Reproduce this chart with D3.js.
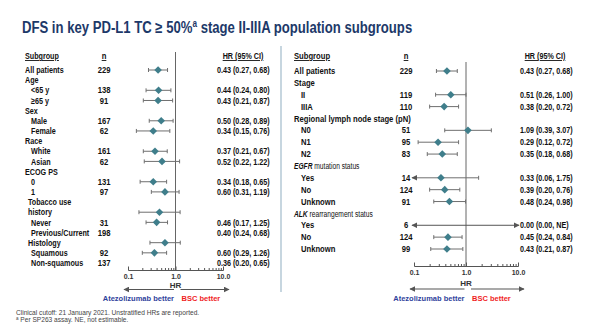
<!DOCTYPE html>
<html>
<head>
<meta charset="utf-8">
<script src="https://cdn.jsdelivr.net/npm/d3@7"></script>
<style>
  body { margin: 0; background: #fff; }
  svg text { font-family: "Liberation Sans", Arial, sans-serif; }
</style>
</head>
<body>
<div id="chart"></div>
<script>
// ---- data ----
const leftLabels = ["All patients", "Age", "<65 y", "≥65 y", "Sex", "Male", "Female", "Race", "White", "Asian",
  "ECOG PS", "0", "1", "Tobacco use", "history", "Never", "Previous/Current", "Histology", "Squamous", "Non-squamous"];
const leftLevels = [0, 0, 1, 1, 0, 1, 1, 0, 1, 1, 0, 1, 1, 0.5, 0.5, 1, 1, 0.5, 1, 1];
const leftN = ["229", "", "138", "91", "", "167", "62", "", "161", "62", "", "131", "97", "", "", "31", "198", "", "92", "137"];
// markers as they are drawn on the slide (tobacco / histology markers sit one row higher)
const leftHR = [0.43, null, 0.44, 0.43, null, 0.50, 0.34, null, 0.37, 0.52, null, 0.34, 0.60, null, 0.46, 0.40, null, 0.60, 0.36, null];
const leftLo = [0.27, null, 0.24, 0.21, null, 0.28, 0.15, null, 0.21, 0.22, null, 0.18, 0.31, null, 0.17, 0.24, null, 0.29, 0.20, null];
const leftHi = [0.68, null, 0.80, 0.87, null, 0.89, 0.76, null, 0.67, 1.22, null, 0.65, 1.19, null, 1.25, 0.68, null, 1.26, 0.65, null];
const leftText = ["0.43 (0.27, 0.68)", "", "0.44 (0.24, 0.80)", "0.43 (0.21, 0.87)", "", "0.50 (0.28, 0.89)", "0.34 (0.15, 0.76)", "",
  "0.37 (0.21, 0.67)", "0.52 (0.22, 1.22)", "", "0.34 (0.18, 0.65)", "0.60 (0.31, 1.19)", "", "", "0.46 (0.17, 1.25)",
  "0.40 (0.24, 0.68)", "", "0.60 (0.29, 1.26)", "0.36 (0.20, 0.65)"];

const rightLabels = ["All patients", "Stage", "II", "IIIA", "Regional lymph node stage (pN)", "N0", "N1", "N2",
  "EGFR| mutation status", "Yes", "No", "Unknown", "ALK| rearrangement status", "Yes", "No", "Unknown"];
const rightLevels = [0, 0, 1, 1, 0, 1, 1, 1, 0, 1, 1, 1, 0, 1, 1, 1];
const rightN = ["229", "", "119", "110", "", "51", "95", "83", "", "14", "124", "91", "", "6", "124", "99"];
const rightHR = [0.43, null, 0.51, 0.38, null, 1.09, 0.29, 0.35, null, 0.33, 0.39, 0.48, null, 0, 0.45, 0.43];
const rightLo = [0.27, null, 0.26, 0.20, null, 0.39, 0.12, 0.18, null, 0.06, 0.20, 0.24, null, 0, 0.24, 0.21];
const rightHi = [0.68, null, 1.00, 0.72, null, 3.07, 0.72, 0.68, null, 1.75, 0.76, 0.98, null, Infinity, 0.84, 0.87];
const rightText = ["0.43 (0.27, 0.68)", "", "0.51 (0.26, 1.00)", "0.38 (0.20, 0.72)", "", "1.09 (0.39, 3.07)",
  "0.29 (0.12, 0.72)", "0.35 (0.18, 0.68)", "", "0.33 (0.06, 1.75)", "0.39 (0.20, 0.76)", "0.48 (0.24, 0.98)", "",
  "0.00 (0.00, NE)", "0.45 (0.24, 0.84)", "0.43 (0.21, 0.87)"];

const hrDomain = [0.1, 10];
const hrTicks = [0.1, 1, 10];

// ---- layout ----
const W = 612, H = 336;
const COLORS = { title: "#1d3969", text: "#111", diamond: "#3f7e8b", ci: "#6f6f6f", ref: "#666",
  axis: "#555", better: "#2f3f9c", bsc: "#f01e1e", sep: "#b9ccd8", note: "#444" };

const svg = d3.select("#chart").append("svg").attr("width", W).attr("height", H);

svg.append("defs").append("marker")
  .attr("id", "ah").attr("viewBox", "0 0 10 10").attr("refX", 9).attr("refY", 5)
  .attr("markerWidth", 6).attr("markerHeight", 6).attr("orient", "auto-start-reverse")
  .attr("markerUnits", "userSpaceOnUse")
  .append("path").attr("d", "M0,0L10,5L0,10z").attr("fill", COLORS.axis);

// no narrow font installed, so squeeze text horizontally to look condensed
function narrowText(parent, x, y, s) {
  return parent.append("text").attr("transform", `translate(${x},${y}) scale(${s},1)`);
}

const title = narrowText(svg, 22, 32.5, 0.82)
  .attr("font-size", 16).attr("font-weight", "bold").attr("fill", COLORS.title);
title.append("tspan").text("DFS in key PD-L1 TC ≥ 50%");
title.append("tspan").attr("font-size", 10).attr("dy", -5.5).text("a");
title.append("tspan").attr("dy", 5.5).text(" stage II-IIIA population subgroups");

// panel separator
svg.append("line").attr("x1", 281).attr("x2", 281).attr("y1", 46).attr("y2", 292)
  .attr("stroke", COLORS.sep).attr("stroke-width", 1.6);

function panel(cfg) {
  const g = svg.append("g");
  const rows = cfg.labels.map((label, i) => ({
    label, level: cfg.levels[i], n: cfg.n[i], hr: cfg.hr[i], lo: cfg.lo[i], hi: cfg.hi[i], text: cfg.text[i]
  }));
  const y = d3.scalePoint().domain(d3.range(rows.length)).range(cfg.yRange);
  const x = d3.scaleLog().domain(hrDomain).range(cfg.xRange);
  const fs = cfg.fontSize;

  // headers
  const hdr = g.append("g").attr("font-size", fs).attr("font-weight", "bold").attr("fill", COLORS.text)
    .attr("text-decoration", "underline");
  narrowText(hdr, cfg.labelX, cfg.headerY, cfg.labelScale).text("Subgroup");
  narrowText(hdr, cfg.nX, cfg.headerY, 0.85).attr("text-anchor", "middle").text("n");
  narrowText(hdr, cfg.hrHeadX, cfg.headerY, 0.8).attr("text-anchor", "middle").text("HR (95% CI)");

  // reference line at HR = 1
  g.append("line").attr("x1", x(1)).attr("x2", x(1)).attr("y1", cfg.refTop).attr("y2", cfg.axisY)
    .attr("stroke", COLORS.ref).attr("stroke-width", 1);

  const row = g.selectAll("g.row").data(rows).join("g").attr("class", "row")
    .attr("transform", (d, i) => `translate(0,${y(i)})`);

  // subgroup labels (a "|" marks an italic gene name prefix)
  row.each(function (d) {
    const parts = d.label.split("|");
    const t = narrowText(d3.select(this), cfg.labelX + d.level * cfg.indent, 0,
        parts.length > 1 ? cfg.italicScale : cfg.labelScale)
      .attr("dy", "0.35em").attr("font-size", fs).attr("font-weight", "bold").attr("fill", COLORS.text);
    if (parts.length > 1) {
      t.append("tspan").attr("font-style", "italic").text(parts[0]);
      t.append("tspan").attr("font-weight", "normal").text(parts[1]);
    } else {
      t.text(d.label);
    }
    narrowText(d3.select(this), cfg.nX, 0, 0.85).attr("dy", "0.35em").attr("text-anchor", "middle")
      .attr("font-size", fs).attr("font-weight", "bold").attr("fill", COLORS.text).text(d.n);
    narrowText(d3.select(this), cfg.hrTextX, 0, 0.8).attr("dy", "0.35em")
      .attr("font-size", fs).attr("font-weight", "bold").attr("fill", COLORS.text).text(d.text);
  });

  // CIs
  const est = row.filter(d => d.hr !== null);
  const [xmin, xmax] = x.range();
  est.append("line")
    .attr("x1", d => d.lo < hrDomain[0] ? xmin - 2 : x(d.lo))
    .attr("x2", d => d.hi > hrDomain[1] ? xmax + 1 : x(d.hi))
    .attr("stroke", d => d.hr === 0 ? COLORS.axis : COLORS.ci).attr("stroke-width", 1)
    .attr("marker-start", d => (d.lo < hrDomain[0]) ? "url(#ah)" : null)
    .attr("marker-end", d => (d.hi > hrDomain[1]) ? "url(#ah)" : null);
  est.filter(d => d.lo >= hrDomain[0]).append("line")
    .attr("x1", d => x(d.lo)).attr("x2", d => x(d.lo)).attr("y1", -2).attr("y2", 2)
    .attr("stroke", COLORS.ci);
  est.filter(d => d.hi <= hrDomain[1]).append("line")
    .attr("x1", d => x(d.hi)).attr("x2", d => x(d.hi)).attr("y1", -2).attr("y2", 2)
    .attr("stroke", COLORS.ci);
  est.filter(d => d.hr > 0).append("path")
    .attr("d", "M0,-3.8L3.8,0L0,3.8L-3.8,0Z")
    .attr("transform", d => `translate(${x(d.hr)},0)`)
    .attr("fill", COLORS.diamond);

  // log axis, ticks pointing up
  const axis = d3.axisBottom(x).tickValues(x.ticks()).tickSize(-2)
    .tickFormat(d => hrTicks.includes(d) ? d3.format(".1f")(d) : "");
  const ag = g.append("g").attr("transform", `translate(0,${cfg.axisY})`).call(axis);
  ag.select(".domain").attr("stroke", COLORS.axis).attr("stroke-width", 1);
  ag.selectAll(".tick line").attr("stroke", COLORS.axis)
    .attr("y2", d => hrTicks.includes(d) ? -3.5 : -2);
  ag.selectAll(".tick text").attr("font-size", 7).attr("font-weight", "bold")
    .attr("fill", "#333").attr("y", cfg.tickDy).attr("dy", 0);

  g.append("text").attr("x", x(1)).attr("y", cfg.axisY + cfg.hrDy).attr("text-anchor", "middle")
    .attr("font-size", 8).attr("font-weight", "bold").attr("fill", "#333").text("HR");

  const ay = cfg.axisY + cfg.arrowDy;
  g.append("line").attr("x1", x(1) - 1.5).attr("x2", xmin - 4).attr("y1", ay).attr("y2", ay)
    .attr("stroke", COLORS.axis).attr("stroke-width", 1.1).attr("marker-end", "url(#ah)");
  g.append("line").attr("x1", x(1) + 5).attr("x2", xmax + 6).attr("y1", ay).attr("y2", ay)
    .attr("stroke", COLORS.axis).attr("stroke-width", 1.1).attr("marker-end", "url(#ah)");

  const lab = g.append("g").attr("font-size", 7.5).attr("font-weight", "bold");
  lab.append("text").attr("x", x(1) - 1.5).attr("y", ay + 11.5).attr("text-anchor", "end")
    .attr("fill", COLORS.better).text("Atezolizumab better");
  lab.append("text").attr("x", x(1) + 6).attr("y", ay + 11.5)
    .attr("fill", COLORS.bsc).text("BSC better");
}

panel({
  labels: leftLabels, levels: leftLevels, n: leftN, hr: leftHR, lo: leftLo, hi: leftHi, text: leftText,
  yRange: [70, 263], xRange: [128, 223], fontSize: 9, labelScale: 0.8, italicScale: 0.8,
  labelX: 25, indent: 6, nX: 104, hrTextX: 217, hrHeadX: 243, headerY: 59,
  refTop: 52, axisY: 270, tickDy: 8.5, hrDy: 17.5, arrowDy: 19.5
});

panel({
  labels: rightLabels, levels: rightLevels, n: rightN, hr: rightHR, lo: rightLo, hi: rightHi, text: rightText,
  yRange: [71, 249], xRange: [414, 518], fontSize: 9, labelScale: 0.85, italicScale: 0.74,
  labelX: 294, indent: 7, nX: 406, hrTextX: 520, hrHeadX: 545, headerY: 59,
  refTop: 62, axisY: 266, tickDy: 8.5, hrDy: 19.5, arrowDy: 23
});

// footnotes
const note = svg.append("g").attr("font-size", 6.6).attr("fill", COLORS.note);
note.append("text").attr("x", 16).attr("y", 314.5)
  .text("Clinical cutoff: 21 January 2021. Unstratified HRs are reported.");
const n2 = note.append("text").attr("x", 16).attr("y", 322);
n2.append("tspan").attr("font-size", 4.5).attr("dy", -2).text("a");
n2.append("tspan").attr("dy", 2).text(" Per SP263 assay. NE, not estimable.");
</script>
</body>
</html>
